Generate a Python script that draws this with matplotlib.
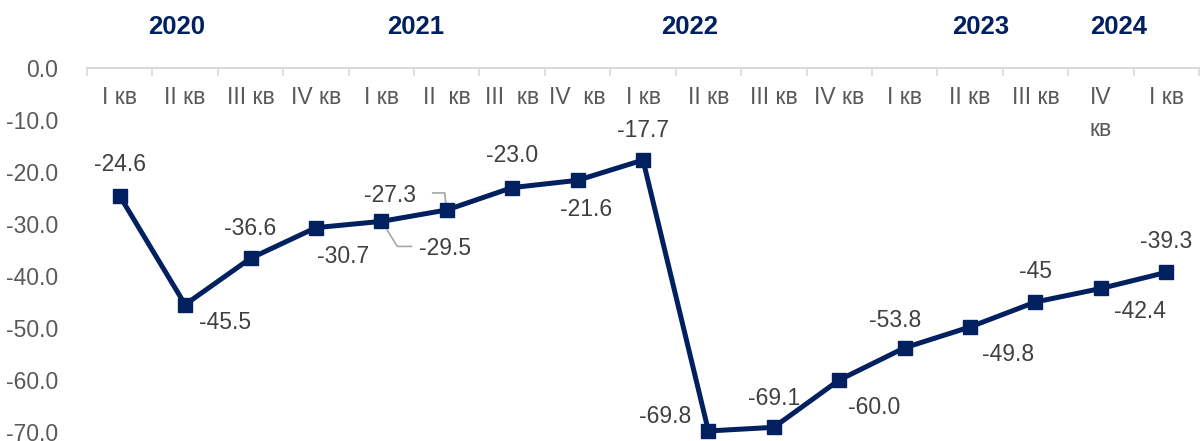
import numpy as np
import matplotlib.pyplot as plt

plt.rcParams['font.family'] = ['Liberation Sans', 'DejaVu Sans']

# данные
quarters = ['I кв', 'II кв', 'III кв', 'IV кв',
            'I кв', 'II  кв', 'III  кв', 'IV  кв',
            'I кв', 'II кв', 'III кв', 'IV кв',
            'I кв', 'II кв', 'III кв', 'IV\nкв',
            'I кв']
values = [-24.6, -45.5, -36.6, -30.7, -29.5, -27.3, -23.0, -21.6, -17.7,
          -69.8, -69.1, -60.0, -53.8, -49.8, -45.0, -42.4, -39.3]
value_labels = ['-24.6', '-45.5', '-36.6', '-30.7', '-29.5', '-27.3', '-23.0', '-21.6', '-17.7',
                '-69.8', '-69.1', '-60.0', '-53.8', '-49.8', '-45', '-42.4', '-39.3']
years = ['2020', '2021', '2022', '2023', '2024']
year_pos = [0.87, 4.52, 8.72, 13.16, 15.27]
yticks = [0, -10, -20, -30, -40, -50, -60, -70]

# смещения подписей в пикселях (dx вправо, dy вниз)
label_off = [(0, -31), (40, 18), (0, -30), (27, 29), (64, 27), (-57, -14), (0, -32), (8, 29),
             (0, -30), (-43, -14), (0, -29), (35, 28), (-10, -27), (38, 28), (0, -31), (39, 23),
             (0, -31)]

navy = '#002060'
gray_txt = '#595959'
lbl_col = '#404040'
axis_col = '#d9d9d9'

fig = plt.figure(figsize=(12.03, 4.41), dpi=100)
ax = fig.add_axes([87 / 1203, 9 / 441, 1112 / 1203, 364 / 441])

x = np.arange(len(values))
ax.plot(x, values, color=navy, lw=3.6, marker='s', ms=10.5, clip_on=False, zorder=3)

ax.set_xlim(-0.5, len(values) - 0.5)
ax.set_ylim(-70, 0)

for s in ['left', 'right', 'bottom']:
    ax.spines[s].set_visible(False)
ax.spines['top'].set_color(axis_col)
ax.spines['top'].set_linewidth(1.5)

ax.xaxis.tick_top()
ax.set_xticks(np.arange(-0.5, len(values)), minor=False)
ax.set_xticklabels([])
ax.tick_params(axis='x', direction='in', length=6, width=1.2, color=axis_col)

ax.set_yticks(yticks)
ax.set_yticklabels(['%.1f' % v for v in yticks])
ax.tick_params(axis='y', length=0, pad=21, labelsize=16.5, labelcolor=gray_txt)

px = 0.72  # пиксели -> пункты при dpi 100

# подписи кварталов под осью
for i, q in enumerate(quarters):
    ax.annotate(q, xy=(i, 1), xycoords=('data', 'axes fraction'),
                xytext=(0, -29 * px), textcoords='offset points',
                ha='center', va='center', fontsize=16.5, color=gray_txt,
                linespacing=1.5 if '\n' in q else 1.2,
                annotation_clip=False)
# для "IV\nкв" первая строка должна стоять на месте остальных
for t in ax.texts:
    if t.get_text() == 'IV\nкв':
        t.set_va('top')
        t.xyann = (0, -18 * px)

# годы
for yr, p in zip(years, year_pos):
    ax.annotate(yr, xy=(p, 1), xycoords=('data', 'axes fraction'),
                xytext=(0, 41 * px), textcoords='offset points',
                ha='center', va='center', fontsize=18.5, fontweight='bold',
                color=navy, annotation_clip=False)

# подписи значений
for i, (v, lab, off) in enumerate(zip(values, value_labels, label_off)):
    ax.annotate(lab, xy=(i, v), xytext=(off[0] * px, -off[1] * px),
                textcoords='offset points', ha='center', va='center',
                fontsize=16.5, color=lbl_col, annotation_clip=False)

# выноски для -29.5 и -27.3
def leader(i, pts):
    base = ax.transData.transform((i, values[i]))
    disp = [(base[0] + dx, base[1] - dy) for dx, dy in pts]
    data = ax.transData.inverted().transform(disp)
    ax.plot(data[:, 0], data[:, 1], color='#a6a6a6', lw=1.2, zorder=2, clip_on=False)

leader(4, [(6, 9), (16, 25), (30, 25)])
leader(5, [(-14, -17), (-2, -17), (-1, -7)])

fig.savefig('out.png', dpi=100)
